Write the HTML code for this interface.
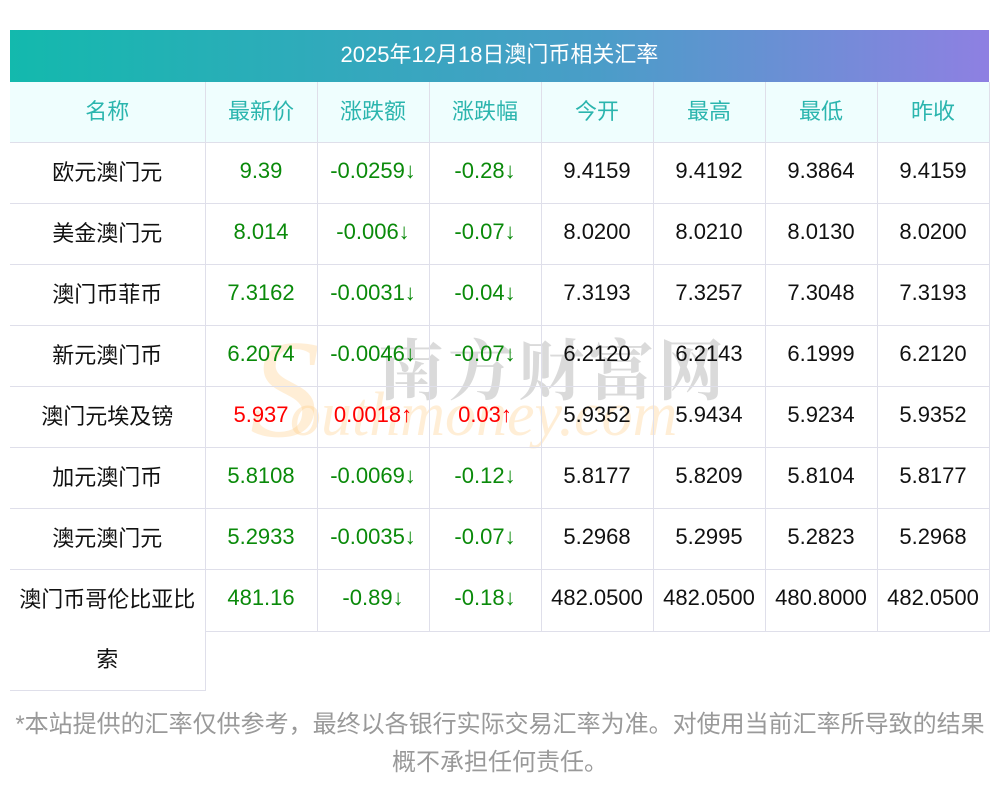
<!DOCTYPE html>
<html><head><meta charset="utf-8"><style>
body{margin:0;width:1000px;height:793px;background:#fff;font-family:"Liberation Sans","Noto Sans CJK SC",sans-serif;position:relative;overflow:hidden}
.title{position:absolute;left:10px;top:30px;width:979px;height:52px;background:linear-gradient(90deg,#13b9ad,#4a9dc8 60%,#8e80e2);color:#fff;font-size:22px;line-height:50px;text-align:center}
table{position:absolute;left:10px;top:82px;border-collapse:collapse;table-layout:fixed;width:979px}
td{border:1px solid #dfdfea;height:56px;padding:0 0 4px 0;text-align:center;font-size:22px;color:#111}
tr.h td{background:#effefe;color:#2bb5ae}
tr td:first-child{border-left:none}
tr.h td{border-top:none}
.g{color:#0a8a0a}.r{color:#f00}
.wm1{position:absolute;left:378px;top:318px;font-size:66px;color:rgba(150,150,150,.35);letter-spacing:4px;font-family:"Noto Serif CJK SC",serif;font-weight:bold;z-index:-1}
.wm2{position:absolute;left:290px;top:380px;font-size:62px;color:rgba(255,200,120,.3);font-family:"Liberation Serif",serif;font-style:italic;z-index:-1}
.wmS{position:absolute;left:250px;top:320px;font-size:140px;color:rgba(255,200,120,.3);font-family:"Liberation Serif",serif;font-style:italic;z-index:-1;line-height:1}
.foot{position:absolute;left:0;top:706px;width:1000px;text-align:center;color:#999;font-size:24px;line-height:38px}
</style></head><body>
<div class="wmS">S</div><div class="wm1">南方财富网</div><div class="wm2">outhmoney.com</div>
<div class="title">2025年12月18日澳门币相关汇率</div>
<table>
<colgroup><col style="width:195px"><col style="width:112px"><col style="width:112px"><col style="width:112px"><col style="width:112px"><col style="width:112px"><col style="width:112px"><col style="width:112px"></colgroup>
<tr class="h"><td>名称</td><td>最新价</td><td>涨跌额</td><td>涨跌幅</td><td>今开</td><td>最高</td><td>最低</td><td>昨收</td></tr>
<tr><td>欧元澳门元</td><td class="g">9.39</td><td class="g">-0.0259↓</td><td class="g">-0.28↓</td><td>9.4159</td><td>9.4192</td><td>9.3864</td><td>9.4159</td></tr>
<tr><td>美金澳门元</td><td class="g">8.014</td><td class="g">-0.006↓</td><td class="g">-0.07↓</td><td>8.0200</td><td>8.0210</td><td>8.0130</td><td>8.0200</td></tr>
<tr><td>澳门币菲币</td><td class="g">7.3162</td><td class="g">-0.0031↓</td><td class="g">-0.04↓</td><td>7.3193</td><td>7.3257</td><td>7.3048</td><td>7.3193</td></tr>
<tr><td>新元澳门币</td><td class="g">6.2074</td><td class="g">-0.0046↓</td><td class="g">-0.07↓</td><td>6.2120</td><td>6.2143</td><td>6.1999</td><td>6.2120</td></tr>
<tr><td>澳门元埃及镑</td><td class="r">5.937</td><td class="r">0.0018↑</td><td class="r">0.03↑</td><td>5.9352</td><td>5.9434</td><td>5.9234</td><td>5.9352</td></tr>
<tr><td>加元澳门币</td><td class="g">5.8108</td><td class="g">-0.0069↓</td><td class="g">-0.12↓</td><td>5.8177</td><td>5.8209</td><td>5.8104</td><td>5.8177</td></tr>
<tr><td>澳元澳门元</td><td class="g">5.2933</td><td class="g">-0.0035↓</td><td class="g">-0.07↓</td><td>5.2968</td><td>5.2995</td><td>5.2823</td><td>5.2968</td></tr>
<tr><td rowspan="2" style="line-height:60px;border-bottom:1px solid #dfdfea;padding:0">澳门币哥伦比亚比<br>索</td><td class="g">481.16</td><td class="g">-0.89↓</td><td class="g">-0.18↓</td><td>482.0500</td><td>482.0500</td><td>480.8000</td><td>482.0500</td></tr>
<tr><td colspan="7" style="border:none;border-top:1px solid #dfdfea;height:58px;padding:0"></td></tr>
</table>
<div class="foot">*本站提供的汇率仅供参考，最终以各银行实际交易汇率为准。对使用当前汇率所导致的结果<br>概不承担任何责任。</div>
</body></html>
